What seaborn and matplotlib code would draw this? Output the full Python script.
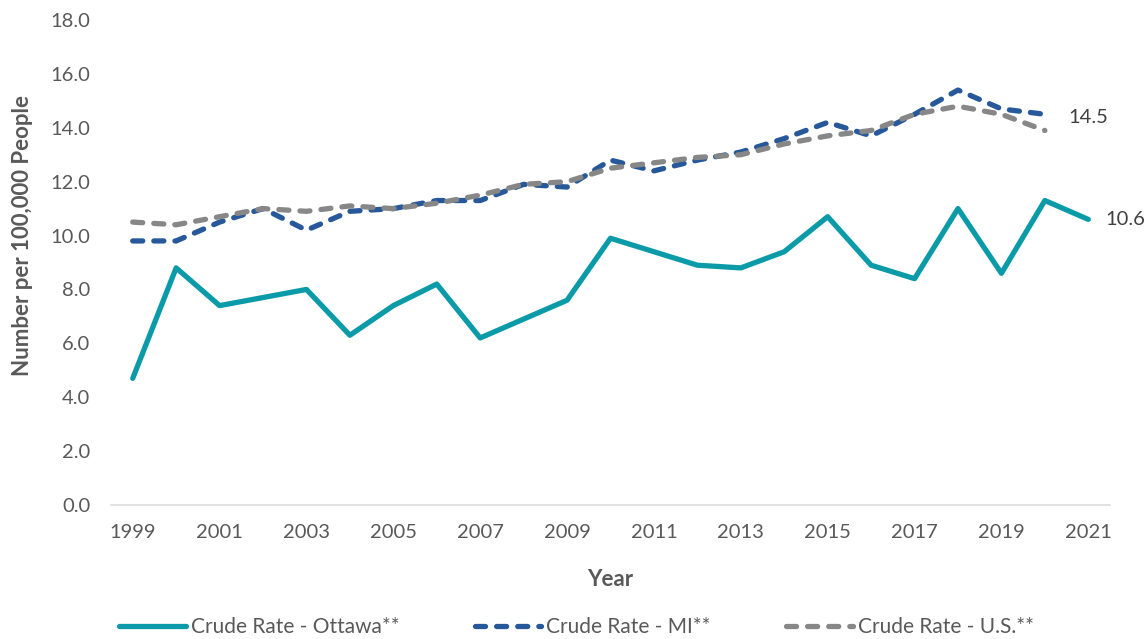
import pandas as pd
import matplotlib.pyplot as plt
import seaborn as sns
from matplotlib.ticker import FixedLocator

# ---------------------------
# data
# ---------------------------
years = list(range(1999, 2022))
ottawa = [4.7, 8.8, 7.4, 7.7, 8.0, 6.3, 7.4, 8.2, 6.2, 6.9, 7.6, 9.9,
          9.4, 8.9, 8.8, 9.4, 10.7, 8.9, 8.4, 11.0, 8.6, 11.3, 10.6]
mi = [9.8, 9.8, 10.5, 11.0, 10.2, 10.9, 11.0, 11.3, 11.3, 11.9, 11.8,
      12.8, 12.4, 12.8, 13.1, 13.6, 14.2, 13.7, 14.5, 15.4, 14.7, 14.5]
us = [10.5, 10.4, 10.7, 11.0, 10.9, 11.1, 11.0, 11.2, 11.5, 11.9, 12.0,
      12.5, 12.7, 12.9, 13.0, 13.4, 13.7, 13.9, 14.5, 14.8, 14.5, 13.9]
series_names = ["Crude Rate - Ottawa**", "Crude Rate - MI**", "Crude Rate - U.S.**"]
x_tick_years = list(range(1999, 2022, 2))
y_ticks = list(range(0, 19, 2))

frames = []
for name, vals in zip(series_names, [ottawa, mi, us]):
    frames.append(pd.DataFrame({"Year": years[:len(vals)], "Rate": vals, "Series": name}))
df = pd.concat(frames, ignore_index=True)

sns.set_theme(style="white")
plt.rcParams["font.family"] = ["Lato", "DejaVu Sans"]

colors = {series_names[0]: "#0B9BA8", series_names[1]: "#27599A", series_names[2]: "#878787"}
dashes = {series_names[0]: "", series_names[1]: (1.9, 2.1), series_names[2]: (1.9, 2.1)}

fig = plt.figure(figsize=(11.46, 6.39), dpi=100)
ax = fig.add_axes([111 / 1146, 1 - 505 / 639, 999 / 1146, 485 / 639])

sns.lineplot(data=df, x="Year", y="Rate", hue="Series", style="Series",
             palette=colors, dashes=dashes, linewidth=3.8, ax=ax,
             solid_capstyle="round", dash_capstyle="round")

ax.set_xlim(1998.5, 2021.5)
ax.set_ylim(0, 18)
ax.set_xticks(x_tick_years)
ax.xaxis.set_minor_locator(FixedLocator([y + 0.5 for y in range(1998, 2022)]))
ax.set_yticks(y_ticks)
ax.set_yticklabels([f"{v:.1f}" for v in y_ticks])

for s in ["top", "right", "left"]:
    ax.spines[s].set_visible(False)
ax.spines["bottom"].set_color("#D9D9D9")
ax.spines["bottom"].set_linewidth(1.1)

ax.tick_params(axis="x", which="major", length=0, pad=14, labelsize=14.5, labelcolor="#595959")
ax.tick_params(axis="x", which="minor", length=4, width=1.1, color="#D9D9D9", direction="out")
ax.tick_params(axis="y", length=0, pad=15, labelsize=14.5, labelcolor="#595959")

ax.set_xlabel("Year", fontsize=16, fontweight="bold", color="#595959", labelpad=20)
ax.set_ylabel("Number per 100,000 People", fontsize=16, fontweight="bold", color="#595959")
ax.yaxis.set_label_coords(-0.078, 0.555)

# end-point data labels
ax.annotate(f"{mi[-1]:.1f}", xy=(years[len(mi) - 1], mi[-1]), xytext=(17, -2),
            textcoords="offset points", ha="left", va="center", fontsize=14.5, color="#404040")
ax.annotate(f"{ottawa[-1]:.1f}", xy=(years[-1], ottawa[-1]), xytext=(12, 0),
            textcoords="offset points", ha="left", va="center", fontsize=14.5, color="#404040")

ax.get_legend().remove()
handles = ax.lines[:3]
fig.legend(handles, series_names, loc="center", bbox_to_anchor=(0.503, 0.019), ncol=3,
           frameon=False, fontsize=15, handlelength=3.2, handletextpad=0.25,
           columnspacing=3.6, labelcolor="#595959")

fig.savefig("out.png", dpi=100)
